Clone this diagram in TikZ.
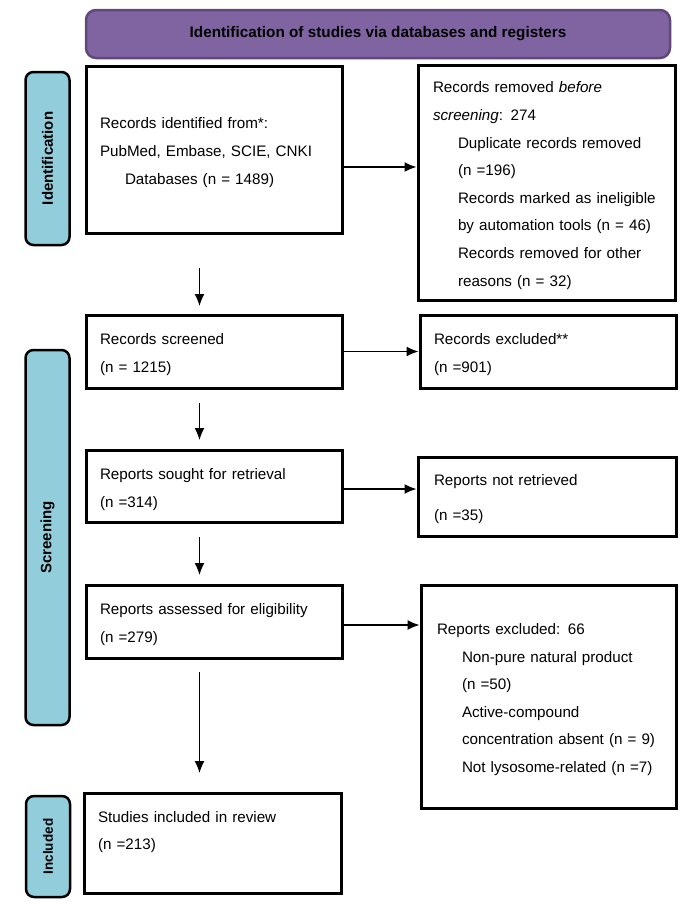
\documentclass[tikz,border=0pt]{standalone}
\usepackage{fontspec}
\setmainfont{Liberation Sans}
\usetikzlibrary{arrows.meta}
\definecolor{hdrfill}{HTML}{8064A2}
\definecolor{hdrline}{HTML}{5F497A}
\definecolor{lblfill}{HTML}{92CDDC}
\tikzset{
  box/.style={draw=black, line width=3pt, fill=white, align=left, inner ysep=0pt,
    font=\fontsize{15.2}{27.6}\selectfont},
  phase/.style={draw=black, line width=2.5pt, fill=lblfill, rounded corners=8pt,
    minimum width=44pt, font=\bfseries\fontsize{15}{18}\selectfont},
  arr/.style={line width=1.4pt, -{Latex[length=12pt,width=10pt]}},
}
\newcommand{\ind}{\hspace*{25pt}}
\newcommand{\ts}{\rule{0pt}{17pt}}
\begin{document}
\begin{tikzpicture}[x=1pt,y=-1pt]
\useasboundingbox (0,0) rectangle (700,910);
% header
\node[draw=hdrline, line width=2.5pt, fill=hdrfill, rounded corners=10pt,
  minimum width=584pt, minimum height=48pt, font=\bfseries\fontsize{15.3}{18}\selectfont]
  (hdr) at (378,34) {Identification of studies via databases and registers};
% phase labels
\node[phase, minimum height=173pt] (pid) at (47.5,158.5) {\rotatebox{90}{Identification}};
\node[phase, minimum height=375pt] (psc) at (47.5,537.5) {\rotatebox{90}{Screening}};
\node[phase, minimum height=101pt, font=\bfseries\fontsize{13.5}{16}\selectfont] (pin) at (48,846.5) {\rotatebox{90}{Included}};
% boxes
\node[box, minimum width=256pt, minimum height=167pt, text width=228pt, inner xsep=14pt] (b1) at (214,149.5)
  {\ts Records identified from*:\\PubMed, Embase, SCIE, CNKI\\\ind Databases (n = 1489)};
\node[box, minimum width=257pt, minimum height=235pt, text width=227pt, inner xsep=15pt] (b2) at (546.5,182.5)
  {\ts Records removed \textit{before}\\\textit{screening}: 274\\\ind Duplicate records removed\\\ind (n =196)\\\ind Records marked as ineligible\\\ind by automation tools (n = 46)\\\ind Records removed for other\\\ind reasons (n = 32)};
\node[box, minimum width=256pt, minimum height=73pt, text width=228pt, inner xsep=14pt] (b3) at (214,351.5)
  {\ts Records screened\\(n = 1215)};
\node[box, minimum width=256pt, minimum height=73pt, text width=228pt, inner xsep=14pt] (b4) at (548,351.5)
  {\ts Records excluded**\\(n =901)};
\node[box, minimum width=256pt, minimum height=72pt, text width=228pt, inner xsep=14pt] (b5) at (214,486.5)
  {\ts Reports sought for retrieval\\(n =314)};
\node[box, minimum width=258pt, minimum height=79pt, text width=226pt, inner xsep=16pt] (b6) at (547,496.5)
  {\ts Reports not retrieved\\[7.4pt](n =35)};
\node[box, minimum width=256pt, minimum height=73pt, text width=228pt, inner xsep=14pt] (b7) at (214,621.5)
  {\ts Reports assessed for eligibility\\(n =279)};
\node[box, minimum width=255pt, minimum height=223pt, text width=223pt, inner xsep=16pt] (b8) at (548.5,696.5)
  {\ts Reports excluded: 66\\\ind Non-pure natural product\\\ind (n =50)\\\ind Active-compound\\\ind concentration absent (n = 9)\\\ind Not lysosome-related (n =7)};
\node[box, minimum width=257pt, minimum height=100pt, text width=229pt, inner xsep=14pt] (b9) at (212.5,843)
  {Studies included in review\\(n =213)\rule[-25pt]{0pt}{1pt}};
% horizontal arrows
\coordinate (h1) at (0,167);
\coordinate (h3) at (0,489);
\coordinate (h4) at (0,625);
\draw[arr] (b1.east |- h1) -- (b2.west |- h1);
\draw[arr] (b3.east) -- (b4.west);
\draw[arr] (b5.east |- h3) -- (b6.west |- h3);
\draw[arr] (b7.east |- h4) -- (b8.west |- h4);
% vertical arrows
\coordinate (v1a) at (199.5,268); \coordinate (v1b) at (199.5,306);
\coordinate (v2a) at (199.5,403); \coordinate (v2b) at (199.5,440);
\coordinate (v3a) at (199.5,537); \coordinate (v3b) at (199.5,575);
\coordinate (v4a) at (199.5,672); \coordinate (v4b) at (199.5,773);
\draw[arr] (v1a) -- (v1b);
\draw[arr] (v2a) -- (v2b);
\draw[arr] (v3a) -- (v3b);
\draw[arr] (v4a) -- (v4b);
\end{tikzpicture}
\end{document}
